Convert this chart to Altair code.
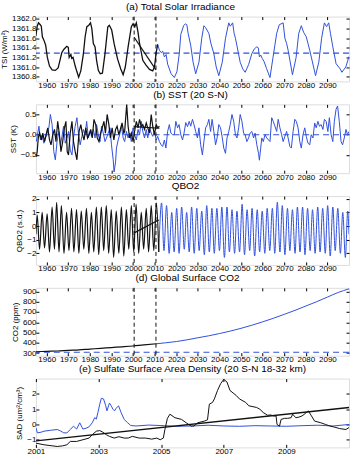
import altair as alt
import pandas as pd

# ---------------- data ----------------
# (a) Total Solar Irradiance
TSI_OBS_YEAR = [1955.0, 1955.6, 1956.2, 1957.0, 1957.5, 1958.0, 1958.7, 1959.5, 1960.3, 1961.3, 1962.5, 1964.0,
                1965.3, 1966.2, 1967.0, 1968.0, 1969.3, 1970.0, 1970.4, 1971.2, 1971.6, 1972.2, 1973.2, 1974.0,
                1974.8, 1975.8, 1977.0, 1977.8, 1978.6, 1979.5, 1980.3, 1980.9, 1981.6, 1982.4, 1983.1, 1983.9,
                1984.8, 1985.8, 1987.0, 1988.3, 1989.0, 1990.1, 1991.2, 1992.8, 1994.3, 1995.4, 1996.4, 1997.7,
                1999.2, 2000.0, 2000.8, 2001.5, 2002.3, 2003.0, 2004.5, 2006.0, 2007.6, 2009.1, 2009.9, 2010.7,
                2011.4]
TSI_OBS_VAL = [1361.65, 1361.85, 1361.92, 1361.88, 1361.85, 1361.63, 1361.56, 1361.46, 1361.20, 1361.02, 1360.94,
               1360.93, 1360.98, 1361.15, 1361.30, 1361.37, 1361.43, 1361.41, 1361.20, 1361.26, 1361.18, 1361.20,
               1361.02, 1360.90, 1360.79, 1360.92, 1361.28, 1361.63, 1361.84, 1361.87, 1361.92, 1361.80, 1361.49,
               1361.42, 1361.14, 1360.93, 1360.86, 1360.87, 1361.28, 1361.84, 1361.87, 1361.77, 1361.49, 1361.17,
               1360.96, 1360.84, 1361.00, 1361.42, 1361.84, 1361.90, 1361.84, 1361.92, 1361.72, 1361.49, 1361.14,
               1361.04, 1360.95, 1360.92, 1361.00, 1361.30, 1361.47]
TSI_MOD_YEAR = [2011.4, 2012.2, 2013.0, 2013.7, 2014.5, 2015.3, 2016.0, 2017.6, 2019.1, 2020.3, 2021.4, 2022.1,
                2023.4, 2024.2, 2024.9, 2025.5, 2026.7, 2027.8, 2029.0, 2030.5, 2031.8, 2032.8, 2033.6, 2035.1,
                2036.0, 2037.4, 2038.5, 2039.7, 2041.3, 2042.8, 2044.3, 2045.0, 2046.1, 2046.8, 2047.4, 2048.2,
                2049.6, 2050.8, 2051.9, 2053.5, 2055.0, 2056.2, 2057.3, 2058.0, 2058.5, 2059.1, 2059.8, 2060.6,
                2061.8, 2063.4, 2064.8, 2066.5, 2067.7, 2069.5, 2070.3, 2071.1, 2071.8, 2073.8, 2075.5, 2076.7,
                2077.9, 2079.0, 2080.2, 2081.8, 2084.5, 2086.0, 2087.3, 2088.6, 2089.6, 2090.6, 2091.4, 2092.5,
                2094.0, 2095.9, 2096.7, 2098.5, 2100.0]
TSI_MOD_VAL = [1361.47, 1361.35, 1361.30, 1361.33, 1361.21, 1361.26, 1361.06, 1360.86, 1360.78, 1360.90, 1361.28,
               1361.68, 1361.86, 1361.90, 1361.88, 1361.70, 1361.45, 1361.10, 1360.86, 1361.10, 1361.60, 1361.86,
               1361.82, 1361.70, 1361.50, 1361.28, 1361.00, 1360.82, 1361.10, 1361.60, 1361.92, 1361.85, 1361.92,
               1361.70, 1361.60, 1361.42, 1361.10, 1360.96, 1360.89, 1361.05, 1361.28, 1361.38, 1361.42, 1361.40,
               1361.21, 1361.25, 1361.18, 1361.12, 1360.97, 1360.78, 1361.20, 1361.70, 1361.88, 1361.92, 1361.60,
               1361.49, 1361.35, 1360.84, 1361.20, 1361.70, 1361.86, 1361.72, 1361.63, 1361.35, 1360.82, 1361.10,
               1361.60, 1361.92, 1361.84, 1361.92, 1361.70, 1361.42, 1361.07, 1360.96, 1360.89, 1361.00, 1361.22]
TSI_TREND_YEAR = [2000.5, 2010.6]
TSI_TREND_VAL = [1361.62, 1360.94]
TSI_REF = [1361.29]

# (b) SST (20 S-N)
SST_OBS_YEAR = [1955.2, 1955.6, 1956.1, 1956.7, 1957.6, 1958.2, 1959.0, 1959.7, 1960.5, 1961.3, 1962.0, 1962.8,
                1963.6, 1964.3, 1965.1, 1965.9, 1966.6, 1967.4, 1968.2, 1968.9, 1969.5, 1970.1, 1970.9, 1971.7,
                1972.4, 1973.2, 1974.0, 1974.4, 1975.0, 1975.8, 1976.6, 1977.3, 1978.1, 1978.9, 1979.6, 1980.4,
                1981.1, 1981.9, 1982.7, 1983.4, 1984.2, 1985.0, 1985.7, 1986.5, 1987.2, 1988.0, 1988.8, 1989.5,
                1990.3, 1991.1, 1991.9, 1992.6, 1993.4, 1994.1, 1994.9, 1995.7, 1996.1, 1997.05, 1997.7, 1998.4,
                1999.2, 2000.0, 2000.7, 2001.5, 2002.3, 2003.0, 2003.8, 2004.5, 2005.3, 2006.1, 2006.8, 2007.6,
                2008.4, 2009.1, 2009.9, 2010.7, 2011.4, 2012.2]
SST_OBS_VAL = [-0.54, -0.42, -0.08, 0.04, -0.13, 0.04, -0.17, 0.00, 0.17, -0.13, -0.25, 0.00,
               0.13, -0.17, 0.33, 0.00, -0.42, -0.17, 0.17, 0.33, -0.42, -0.50, 0.04, 0.33,
               -0.17, -0.42, -0.62, -0.33, 0.08, 0.25, 0.00, -0.13, 0.17, -0.08, 0.00, 0.13,
               -0.08, 0.38, 0.25, -0.08, -0.17, 0.04, 0.17, 0.33, 0.04, 0.50, 0.25, -0.08,
               0.17, -0.13, 0.13, 0.21, 0.00, 0.13, 0.29, 0.04, 0.08, 0.75, 0.21, -0.08,
               0.04, -0.17, 0.08, 0.33, 0.17, 0.38, 0.21, 0.25, 0.13, 0.29, 0.17, 0.04,
               0.50, 0.21, 0.00, 0.25, 0.17, 0.21]
SST_MOD_YEAR = [1955.2, 1956.4, 1957.1, 1957.9, 1958.7, 1960.2, 1961.0, 1961.7, 1962.5, 1963.3, 1964.0, 1964.8,
                1965.6, 1966.3, 1967.1, 1967.8, 1968.6, 1969.4, 1970.1, 1970.9, 1971.7, 1972.4, 1973.2, 1974.0,
                1974.7, 1975.5, 1976.3, 1977.0, 1977.8, 1978.5, 1979.3, 1980.1, 1980.8, 1981.6, 1982.4, 1983.1,
                1983.9, 1984.7, 1985.4, 1986.2, 1987.0, 1987.7, 1988.5, 1989.3, 1990.0, 1990.8, 1991.2, 1991.9,
                1992.3, 1993.1, 1993.8, 1994.6, 1995.4, 1996.1, 1996.9, 1997.7, 1998.4, 1999.2, 2000.0, 2000.7,
                2001.5, 2002.3, 2003.0, 2003.8, 2004.5, 2005.3, 2006.1, 2006.8, 2007.6, 2008.4, 2009.1, 2009.9,
                2010.7, 2011.4, 2012.2, 2013.0, 2013.7, 2014.5, 2015.2, 2016.0, 2016.8, 2017.5, 2018.3, 2019.1,
                2019.8, 2020.6, 2021.3, 2022.1, 2022.9, 2023.6, 2024.4, 2025.2, 2026.0, 2026.7, 2027.5, 2028.2,
                2029.0, 2029.8, 2030.5, 2031.3, 2032.1, 2032.8, 2033.6, 2034.4, 2035.1, 2035.9, 2036.6, 2037.4,
                2038.2, 2038.9, 2039.7, 2040.5, 2041.2, 2042.0, 2042.8, 2043.5, 2044.3, 2045.0, 2045.8, 2046.6,
                2047.4, 2048.1, 2048.9, 2049.6, 2050.4, 2051.2, 2051.9, 2052.7, 2053.5, 2054.2, 2055.0, 2055.8,
                2056.5, 2057.3, 2058.1, 2058.5, 2059.1, 2059.6, 2060.3, 2061.1, 2061.9, 2063.4, 2064.2, 2064.9,
                2065.7, 2066.5, 2067.2, 2068.0, 2068.8, 2069.5, 2070.3, 2071.1, 2071.8, 2072.6, 2073.3, 2074.1,
                2074.9, 2075.6, 2076.4, 2077.2, 2077.9, 2078.7, 2079.5, 2080.2, 2081.0, 2081.8, 2082.5, 2083.3,
                2084.1, 2084.8, 2085.6, 2086.3, 2087.1, 2087.9, 2088.6, 2089.4, 2090.2, 2090.9, 2091.7, 2092.5,
                2093.2, 2094.0, 2094.7, 2095.5, 2096.3, 2097.0, 2097.8, 2098.6, 2099.3, 2100.0]
SST_MOD_VAL = [-0.17, 0.21, -0.13, 0.00, -0.21, 0.04, 0.17, 0.50, 0.25, -0.42, -0.62, -0.17,
               0.08, -0.25, -0.04, 0.21, -0.21, -0.08, 0.08, -0.38, -0.50, -0.08, 0.21, 0.42,
               0.04, -0.25, -0.04, 0.13, 0.00, 0.33, -0.08, 0.08, -0.04, 0.13, -0.08, 0.25,
               0.00, -0.17, 0.21, 0.04, -0.17, -0.08, 0.04, 0.17, -0.25, -0.62, -0.92, -0.67,
               -0.33, -0.13, 0.00, 0.21, -0.08, -0.17, 0.08, -0.08, 0.04, -0.17, 0.17, 0.00,
               -0.13, 0.13, 0.00, 0.33, 0.08, -0.08, 0.13, -0.08, 0.17, 0.04, -0.04, 0.08,
               -0.13, -0.04, -0.17, -0.25, -0.29, -0.13, -0.33, 0.08, 0.25, 0.04, 0.00, 0.00,
               0.33, 0.17, 0.25, 0.00, -0.13, 0.04, 0.30, 0.20, 0.33, 0.21, 0.38, 0.25,
               0.08, -0.08, 0.17, -0.25, -0.50, -0.17, 0.17, 0.25, 0.38, 0.08, 0.38, 0.08,
               -0.25, -0.08, 0.25, 0.17, -0.04, -0.33, -0.46, -0.08, 0.08, 0.25, 0.50, 0.33,
               0.00, -0.08, 0.17, 0.50, 0.33, 0.04, 0.00, -0.17, -0.08, 0.04, 0.08, -0.08,
               0.04, -0.25, -0.46, -0.63, -0.33, -0.08, -0.17, 0.00, -0.08, -0.17, 0.42, 0.33,
               0.21, 0.08, 0.38, 0.17, 0.00, -0.17, -0.04, 0.08, -0.08, -0.29, -0.33, 0.08,
               0.38, 0.33, 0.17, -0.17, -0.33, 0.00, 0.17, -0.04, -0.21, -0.25, 0.00, -0.08,
               0.29, 0.17, 0.33, 0.21, 0.25, 0.13, 0.38, 0.33, 0.08, 0.42, 0.00, -0.17,
               0.33, 0.63, 0.71, 0.33, -0.17, -0.25, -0.08, 0.13, 0.00, 0.08]
SST_TREND_YEAR = [2000.5, 2012.2]
SST_TREND_VAL = [0.20, 0.16]
SST_REF = [0.0]

# (c) QBO2 (turning points)
QBO_OBS_YEAR = [1955.0, 1955.6, 1956.7, 1957.9, 1959.0, 1960.2, 1961.3, 1962.5, 1963.6, 1964.6, 1965.7, 1966.8,
                1968.0, 1969.2, 1970.3, 1971.5, 1972.6, 1973.8, 1974.9, 1976.0, 1977.2, 1978.4, 1979.5, 1980.7,
                1981.8, 1983.0, 1984.1, 1985.3, 1986.4, 1987.6, 1988.7, 1989.9, 1991.0, 1992.2, 1993.4, 1994.6,
                1995.7, 1996.9, 1998.0, 1999.2, 2000.3, 2001.4, 2002.6, 2003.8, 2004.9, 2006.1, 2007.2, 2008.4,
                2009.6, 2010.8, 2011.9]
QBO_OBS_VAL = [-0.6, 0.8, -1.7, 1.0, -1.6, 0.9, -1.9, 1.4, -1.7, 1.75, -1.9, 1.5,
               -2.0, 1.0, -1.8, 1.3, -1.9, 1.2, -2.0, 1.1, -1.7, 1.3, -2.0, 1.0,
               -1.9, 1.4, -2.1, 1.4, -1.8, 1.5, -2.0, 1.2, -2.3, 1.1, -2.0, 1.4,
               -2.2, 1.2, -1.7, 1.5, -1.9, 1.6, -2.0, 1.0, -1.7, 1.3, -1.9, 1.5,
               -1.8, 1.7, -1.9]
QBO_MOD_YEAR = [2011.9, 2013.2, 2014.3, 2015.5, 2016.7, 2017.9, 2019.0, 2020.2, 2021.3, 2022.5, 2023.7, 2024.8,
                2026.0, 2027.1, 2028.3, 2029.5, 2030.6, 2031.8, 2033.0, 2034.1, 2035.3, 2036.5, 2037.6, 2038.8,
                2040.0, 2041.1, 2042.3, 2043.5, 2044.6, 2045.8, 2047.0, 2048.1, 2049.3, 2050.5, 2051.6, 2052.8,
                2054.0, 2055.1, 2056.3, 2057.5, 2058.6, 2059.8, 2061.0, 2062.1, 2063.3, 2064.5, 2065.6, 2066.8,
                2068.0, 2069.1, 2070.3, 2071.5, 2072.6, 2073.8, 2075.0, 2076.1, 2077.3, 2078.5, 2079.6, 2080.8,
                2082.0, 2083.1, 2084.3, 2085.5, 2086.6, 2087.8, 2089.0, 2090.1, 2091.3, 2092.5, 2093.6, 2094.8,
                2096.0, 2097.1, 2098.3, 2099.4, 2100.0]
QBO_MOD_VAL = [-1.9, 1.7, -1.8, 1.5, -2.0, 1.0, -1.9, 1.3, -2.0, 1.4, -1.7, 1.0,
               -1.9, 1.4, -2.0, 1.3, -1.8, 1.1, -2.1, 1.5, -1.9, 1.3, -2.0, 1.3,
               -1.8, 1.4, -2.3, 1.4, -1.9, 1.2, -2.0, 1.1, -1.9, 1.6, -2.1, 1.2,
               -1.8, 1.3, -2.2, 1.2, -1.9, 1.1, -2.0, 1.3, -1.8, 1.3, -2.0, 1.75,
               -1.9, 1.5, -2.1, 1.3, -1.8, 1.2, -2.0, 1.4, -1.9, 1.4, -2.1, 1.3,
               -1.8, 1.2, -2.0, 1.4, -1.9, 1.3, -2.0, 1.5, -2.2, 1.4, -1.8, 1.3,
               -2.0, 1.0, -2.3, 1.1, -0.6]
QBO_TREND_YEAR = [2000.5, 2011.9]
QBO_TREND_VAL = [-0.5, 0.45]

# (d) Global Surface CO2
CO2_OBS_YEAR = [1955, 1960, 1965, 1970, 1975, 1980, 1985, 1990, 1995, 2000, 2005, 2011]
CO2_OBS_VAL = [313, 317, 320, 326, 331, 339, 346, 354, 361, 369, 380, 391]
CO2_MOD_YEAR = [2011, 2015, 2020, 2025, 2030, 2035, 2040, 2045, 2050, 2055, 2060, 2065, 2070, 2075, 2080,
                2085, 2090, 2095, 2100]
CO2_MOD_VAL = [391, 400, 412, 429, 449, 468, 490, 514, 541, 571, 604, 639, 677, 716, 758, 800, 845, 890, 925]
CO2_REF = [308]

# (e) Sulfate Surface Area Density (20 S-N 18-32 km)
SAD_MOD_YEAR = [2001.0, 2001.05, 2001.16, 2001.26, 2001.47, 2001.68, 2001.78, 2001.89, 2001.99, 2002.1, 2002.2,
                2002.3, 2002.4, 2002.5, 2002.6, 2002.7, 2002.8, 2002.88, 2002.93, 2002.98, 2003.04, 2003.09,
                2003.16, 2003.23, 2003.27, 2003.32, 2003.35, 2003.41, 2003.46, 2003.51, 2003.56, 2003.64, 2003.72,
                2003.82, 2003.93, 2004.03, 2004.2, 2004.6, 2005.1, 2005.5, 2006.0, 2006.5, 2007.0, 2007.5, 2008.0,
                2008.5, 2009.0, 2009.5, 2010.0, 2010.5, 2011.0]
SAD_MOD_VAL = [-0.22, -0.55, -0.51, -0.44, -0.38, -0.33, -0.42, -0.55, -0.55, -0.33, -0.11,
               -0.30, 0.11, -0.30, -0.25, -0.15, 0.11, 0.45, 0.35, 0.78, 1.33, 1.71,
               1.67, 1.22, 0.89, 1.22, 1.40, 1.20, 1.00, 0.89, 1.05, 1.22, 0.78,
               0.33, 0.11, -0.07, -0.10, -0.04, -0.08, -0.12, -0.10, -0.05, -0.10, -0.12, -0.08,
               -0.10, -0.12, -0.08, -0.05, -0.10, 0.00]
SAD_OBS_YEAR = [2001.0, 2001.26, 2001.68, 2001.85, 2001.99, 2002.1, 2002.3, 2002.5, 2002.7, 2002.8, 2002.93,
                2003.04, 2003.14, 2003.25, 2003.35, 2003.5, 2003.65, 2003.82, 2003.95, 2004.08, 2004.3, 2004.5,
                2004.7, 2004.86, 2004.97, 2005.07, 2005.12, 2005.2, 2005.28, 2005.44, 2005.65, 2005.8, 2005.96,
                2006.05, 2006.17, 2006.38, 2006.48, 2006.54, 2006.64, 2006.7, 2006.8, 2006.9, 2007.0, 2007.1,
                2007.2, 2007.4, 2007.5, 2007.7, 2007.8, 2008.05, 2008.15, 2008.26, 2008.4, 2008.5, 2008.6,
                2008.67, 2008.7, 2008.78, 2008.83, 2008.94, 2009.04, 2009.15, 2009.2, 2009.3, 2009.4, 2009.5,
                2009.6, 2009.7, 2009.8, 2009.9, 2010.1, 2010.25, 2010.4, 2010.55, 2010.7, 2010.9, 2011.0]
SAD_OBS_VAL = [-1.22, -1.33, -1.44, -1.40, -1.33, -1.11, -1.11, -1.00, -0.89, -0.67, -0.44,
               -0.40, -0.51, -0.67, -0.78, -0.89, -0.80, -0.89, -0.89, -0.78, -0.89, -0.89,
               -0.96, -0.89, -1.00, -0.89, -0.33, 0.40, 0.67, 0.44, 0.33, 0.11, -0.11,
               -0.10, 0.11, 0.22, 0.30, 1.33, 1.44, 1.67, 2.22, 2.67, 2.95, 2.78,
               2.22, 1.89, 1.67, 1.44, 1.22, 1.11, 1.00, 0.78, 0.60, 0.62, 0.55,
               0.56, 0.00, -0.11, 0.33, 0.40, 0.40, 0.44, 0.67, 0.44, 0.48, 0.56,
               0.71, 0.89, 0.56, 0.22, 0.11, 0.00, -0.11, -0.18, -0.27, -0.33, -0.20]
SAD_TREND_YEAR = [2001.0, 2011.0]
SAD_TREND_VAL = [-1.07, 1.11]

YEAR_TICKS = list(range(1960, 2100, 10))
SAD_TICKS = [2001, 2003, 2005, 2007, 2009]
VLINES = [2000.5, 2010.6]

# ---------------- styling ----------------
BLUE = "#3050dd"
BLACK = "#111111"
FONT = "Liberation Sans"
W = 314
INWARD = {"expr": "-3"}


def frame_df(xs, ys):
    return pd.DataFrame({"x": xs, "y": ys})


def axis(**kw):
    base = dict(title=None, grid=False, domain=False, labelFont=FONT, labelFontSize=8, labelColor="black",
                tickColor="black", tickSize=INWARD, labelPadding=3, labelFlush=False, labelOverlap=False,
                titleFont=FONT, titleFontSize=8, titleFontWeight="normal", titleColor="black", titlePadding=3)
    base.update(kw)
    return alt.Axis(**base)


def panel(xdom, xticks, ydom, yticks, yfmt, ytitle, title, height, dx, lines, vlines=True, hrefs=None,
          interp="linear"):
    xs = alt.Scale(domain=xdom, nice=False, zero=False)
    ys = alt.Scale(domain=ydom, nice=False, zero=False)
    X = alt.X("x:Q", scale=xs, axis=axis(values=xticks, format="d"))
    Y = alt.Y("y:Q", scale=ys, axis=axis(values=yticks, format=yfmt, title=ytitle))
    layers = []
    if hrefs:
        for val, col in hrefs:
            layers.append(alt.Chart(frame_df([xdom[0]], [val])).mark_rule(
                color=col, strokeDash=[6, 4], strokeWidth=1.1).encode(y=Y))
    for xs_, ys_, col, sw, ip in lines:
        layers.append(alt.Chart(frame_df(xs_, ys_)).mark_line(
            color=col, strokeWidth=sw, interpolate=ip, clip=True).encode(x=X, y=Y))
    if vlines:
        layers.append(alt.Chart(frame_df(VLINES, [0, 0])).mark_rule(
            color=BLACK, strokeDash=[4, 3], strokeWidth=1).encode(x=X))
    main = alt.layer(*layers)
    Xt = alt.X("x:Q", scale=xs, axis=axis(values=xticks, orient="top", labels=False))
    Yr = alt.Y("y:Q", scale=ys, axis=axis(values=yticks, orient="right", labels=False))
    frame = alt.Chart(frame_df([xdom[0], xdom[1]], [ydom[0], ydom[1]])).mark_point(opacity=0).encode(x=Xt, y=Yr)
    return alt.layer(main, frame).resolve_axis(x="independent", y="independent").properties(
        width=W, height=height,
        title=alt.TitleParams(title, font=FONT, fontSize=10, fontWeight="normal", color="black",
                              anchor="middle", frame="group", offset=2, dx=dx))


pa = panel([1955, 2100], YEAR_TICKS, [1360.7, 1362.05], [1360.8, 1361.0, 1361.2, 1361.4, 1361.6, 1361.8, 1362.0],
           ".1f", "TSI (W/m²)", "(a) Total Solar Irradiance", 65, -12,
           [(TSI_MOD_YEAR, TSI_MOD_VAL, BLUE, 1.0, "linear"),
            (TSI_OBS_YEAR, TSI_OBS_VAL, BLACK, 1.3, "linear"),
            (TSI_TREND_YEAR, TSI_TREND_VAL, BLACK, 1.2, "linear")],
           hrefs=[(TSI_REF[0], BLUE)])

pb = panel([1955, 2100], YEAR_TICKS, [-0.95, 0.75], [-0.5, 0.0, 0.5], ".1f", "SST (K)",
           "(b)  SST (20 S-N)", 69, -2,
           [(SST_MOD_YEAR, SST_MOD_VAL, BLUE, 1.0, "linear"),
            (SST_OBS_YEAR, SST_OBS_VAL, BLACK, 1.2, "linear"),
            (SST_TREND_YEAR, SST_TREND_VAL, BLACK, 1.2, "linear")],
           hrefs=[(SST_REF[0], BLUE)])

pc = panel([1955, 2100], YEAR_TICKS, [-2.85, 2.2], [-2, -1, 0, 1, 2], "d", "QBO2 (s.d.)",
           "QBO2", 69, -7,
           [(QBO_MOD_YEAR, QBO_MOD_VAL, BLUE, 1.0, "monotone"),
            (QBO_OBS_YEAR, QBO_OBS_VAL, BLACK, 1.2, "monotone"),
            (QBO_TREND_YEAR, QBO_TREND_VAL, BLACK, 1.2, "linear")])

pd_ = panel([1955, 2100], YEAR_TICKS, [275, 935], [300, 400, 500, 600, 700, 800, 900], "d", "CO2 (ppm)",
            "(d)  Global Surface CO2", 68, -5,
            [(CO2_MOD_YEAR, CO2_MOD_VAL, BLUE, 1.0, "monotone"),
             (CO2_OBS_YEAR, CO2_OBS_VAL, BLACK, 1.2, "monotone")],
            hrefs=[(CO2_REF[0], BLUE)])

pe = panel([2001, 2011], SAD_TICKS, [-1.5, 3.0], [-1, 0, 1, 2], "d", "SAD (um²/cm³)",
           "(e)  Sulfate Surface Area Density (20 S-N 18-32 km)", 69, 0,
           [(SAD_MOD_YEAR, SAD_MOD_VAL, BLUE, 1.0, "linear"),
            (SAD_OBS_YEAR, SAD_OBS_VAL, BLACK, 1.0, "linear"),
            (SAD_TREND_YEAR, SAD_TREND_VAL, BLACK, 1.3, "linear")],
           vlines=False)

chart = alt.vconcat(pa, pb, pc, pd_, pe, spacing=23, bounds="flush").properties(
    padding={"left": 0, "top": 0, "right": 4, "bottom": 3}
).configure_view(stroke="black", strokeWidth=1).configure(background="white")

chart.save("out.html", embed_options={"renderer": "svg", "actions": False})
